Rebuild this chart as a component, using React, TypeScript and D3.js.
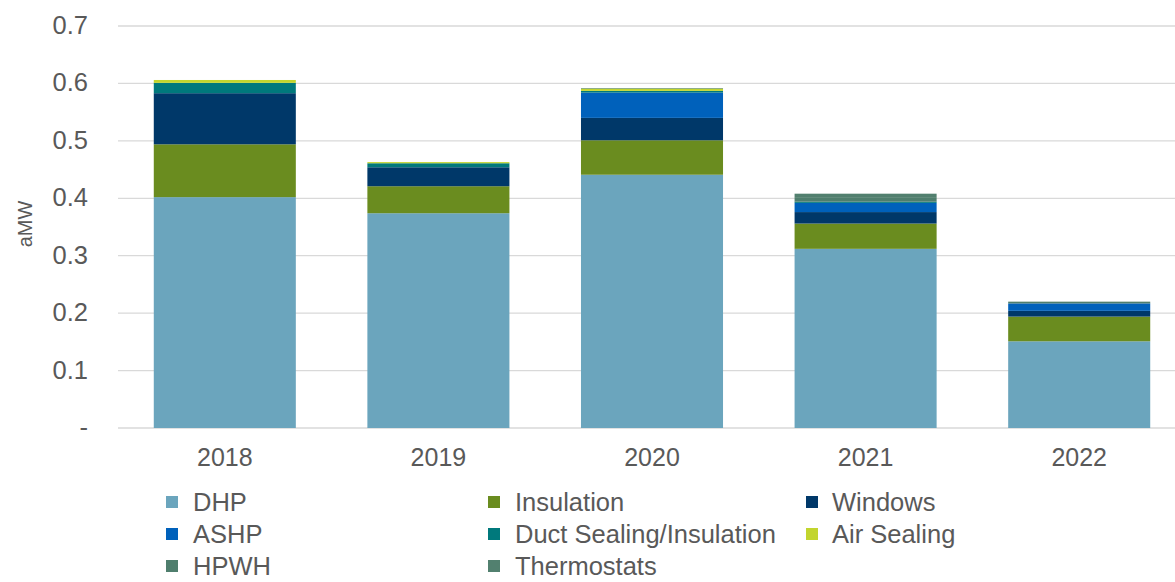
import React from "react";
import * as d3 from "d3";

const years = ["2018", "2019", "2020", "2021", "2022"];
const seriesNames = ["DHP", "Insulation", "Windows", "ASHP", "Duct Sealing/Insulation", "Air Sealing", "HPWH", "Thermostats"];
const dhp = [0.402, 0.374, 0.441, 0.312, 0.151];
const insulation = [0.092, 0.047, 0.060, 0.044, 0.043];
const windows = [0.089, 0.033, 0.039, 0.020, 0.010];
const ashp = [0.0, 0.0, 0.044, 0.016, 0.013];
const duct = [0.018, 0.007, 0.003, 0.002, 0.0];
const airSealing = [0.005, 0.002, 0.004, 0.0, 0.0];
const hpwh = [0.0, 0.0, 0.001, 0.008, 0.003];
const thermostats = [0.0, 0.0, 0.0, 0.006, 0.0];
const yTicks = [0, 0.1, 0.2, 0.3, 0.4, 0.5, 0.6, 0.7];
const colors = ["#6ba5bd", "#6a8c1f", "#003869", "#0061bb", "#00797c", "#c2d52e", "#4f7e6d", "#52806f"];

const W = 1175, H = 582;

export default function App() {
  const valuesBySeries = [dhp, insulation, windows, ashp, duct, airSealing, hpwh, thermostats];
  const rows = years.map((y, i) => {
    const r: any = { year: y };
    seriesNames.forEach((s, k) => (r[s] = valuesBySeries[k][i]));
    return r;
  });
  const stack = d3.stack<any>().keys(seriesNames)(rows);
  const x = d3.scaleBand().domain(years).range([118, 1186]).paddingInner(0.335).paddingOuter(0.1675);
  const y = d3.scaleLinear().domain([0, 0.7]).range([428, 26]);
  const legendSquares = [166, 488, 806];
  const legendTexts = [193, 515, 832];
  const legendRows = [502, 534, 566];
  const font = "Liberation Sans, Arial, sans-serif";
  return (
    <svg width={W} height={H} style={{ position: "absolute", left: 0, top: 0, background: "#fff" }} fontFamily={font}>
      {yTicks.map((t) => (
        <g key={t}>
          <line x1={118} x2={W} y1={y(t)} y2={y(t)} stroke="#d9d9d9" strokeWidth={1.3} />
          <text x={88} y={y(t) + 8} textAnchor="end" fontSize={25.5} fill="#595959">
            {t === 0 ? "-" : d3.format(".1f")(t)}
          </text>
        </g>
      ))}
      <text transform={`translate(32,224) rotate(-90)`} textAnchor="middle" fontSize={20} fill="#595959">aMW</text>
      {stack.map((layer, k) => (
        <g key={layer.key} fill={colors[k]}>
          {layer.map((d, i) =>
            d[1] - d[0] > 0 ? (
              <rect key={i} x={x(years[i])} width={x.bandwidth()} y={y(d[1])} height={y(d[0]) - y(d[1])} />
            ) : null
          )}
        </g>
      ))}
      {years.map((yr) => (
        <text key={yr} x={(x(yr) as number) + x.bandwidth() / 2} y={466} textAnchor="middle" fontSize={25} fill="#595959">{yr}</text>
      ))}
      {seriesNames.map((s, k) => {
        const col = k % 3;
        const cy = legendRows[Math.floor(k / 3)];
        return (
          <g key={s}>
            <rect x={legendSquares[col]} y={cy - 6} width={12} height={12} fill={colors[k]} />
            <text x={legendTexts[col]} y={cy + 9} fontSize={25.5} fill="#595959">{s}</text>
          </g>
        );
      })}
    </svg>
  );
}
